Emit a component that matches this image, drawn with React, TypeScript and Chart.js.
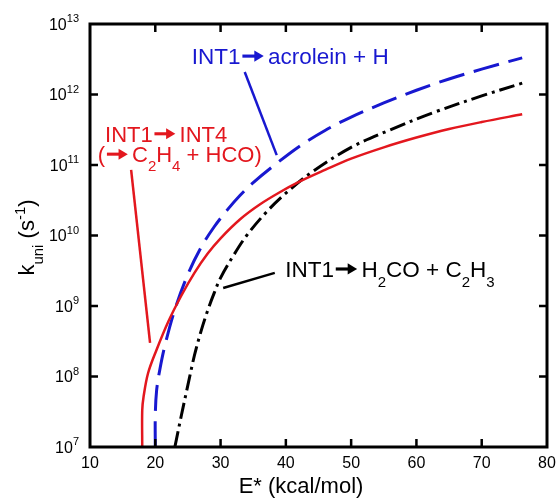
import React, { useEffect, useRef } from "react";
import { Chart, registerables } from "chart.js";

Chart.register(...registerables);

const FONT = '"Liberation Sans", Arial, Helvetica, sans-serif';

// INT1 -> INT4 (red, solid)
const redEnergy = [18, 18, 18.2, 18.9, 20.2, 22, 24, 26, 28, 30, 33, 36, 39, 42, 46, 50, 55, 60, 65, 70, 76.2];
const redRate = [1e7, 3.31e7, 5.13e7, 1.12e8, 2.4e8, 6.03e8, 1.41e9, 2.95e9, 5.5e9, 9.12e9, 1.7e10, 2.75e10, 4.07e10, 5.75e10, 8.5e10, 1.23e11, 1.78e11, 2.45e11, 3.24e11, 4.07e11, 5.25e11];

// INT1 -> acrolein + H (blue, dashed)
const blueEnergy = [20, 20, 20.2, 20.7, 21.5, 23, 25, 27, 29, 31, 33, 35, 38, 42, 46, 50, 55, 60, 65, 70, 76.2];
const blueRate = [1e7, 2.82e7, 6.31e7, 1.26e8, 2.82e8, 8.91e8, 2.82e9, 6.76e9, 1.32e10, 2.29e10, 3.72e10, 5.62e10, 9.55e10, 1.82e11, 3.09e11, 4.79e11, 7.59e11, 1.15e12, 1.66e12, 2.29e12, 3.31e12];

// INT1 -> H2CO + C2H3 (black, dash-dot)
const blackEnergy = [23, 24, 25, 26, 27, 28, 29, 30, 32, 34, 37, 40, 44, 50, 56, 62.5, 70, 76.2];
const blackRate = [1e7, 2.82e7, 7.59e7, 2.0e8, 4.37e8, 8.51e8, 1.51e9, 2.51e9, 5.25e9, 1.0e10, 2.14e10, 3.98e10, 7.94e10, 1.78e11, 3.16e11, 5.5e11, 9.55e11, 1.45e12];

const xTickValues = [10, 20, 30, 40, 50, 60, 70, 80];
const xTickLabels = ["10", "20", "30", "40", "50", "60", "70", "80"];
const yTickExponents = [7, 8, 9, 10, 11, 12, 13];

const RED = "#e3171e";
const BLUE = "#1818d0";
const BLACK = "#000000";

type Seg = { t?: string; arrow?: boolean; sub?: boolean; sup?: boolean };

const blueLabel: Seg[] = [{ t: "INT1" }, { arrow: true }, { t: "acrolein + H" }];
const redLabel1: Seg[] = [{ t: "INT1" }, { arrow: true }, { t: "INT4" }];
const redLabel2: Seg[] = [{ t: "(" }, { arrow: true }, { t: "C" }, { t: "2", sub: true }, { t: "H" }, { t: "4", sub: true }, { t: " + HCO)" }];
const blackLabel: Seg[] = [{ t: "INT1" }, { arrow: true }, { t: "H" }, { t: "2", sub: true }, { t: "CO + C" }, { t: "2", sub: true }, { t: "H" }, { t: "3", sub: true }];
const yTitle: Seg[] = [{ t: "k" }, { t: "uni", sub: true }, { t: " (s" }, { t: "-1", sup: true }, { t: ")" }];
const xTitle: Seg[] = [{ t: "E* (kcal/mol)" }];

// annotation anchors in data coordinates [E, k]
const blueLabelAt = [25.6, 2.69e12];
const blueLeader = [[33.7, 2.09e12], [38.6, 1.38e11]];
const redLabel1At = [12.3, 2.14e11];
const redLabel2At = [11.2, 1.1e11];
const redLeader = [[16.3, 8.5e10], [19.2, 3.0e8]];
const blackLabelAt = [39.9, 2.57e9];
const blackLeader = [[38.3, 2.95e9], [30.4, 1.8e9]];

function segFont(seg: Seg, size: number) {
  const s = seg.sub || seg.sup ? Math.round(size * 0.68) : size;
  return `${s}px ${FONT}`;
}

function segWidth(ctx: CanvasRenderingContext2D, seg: Seg, size: number) {
  if (seg.arrow) return size * 1.22;
  ctx.font = segFont(seg, size);
  return ctx.measureText(seg.t || "").width;
}

function drawRich(ctx: CanvasRenderingContext2D, segs: Seg[], x: number, y: number, size: number, color: string, align: "left" | "center" = "left") {
  const total = segs.reduce((s, g) => s + segWidth(ctx, g, size), 0);
  let cx = align === "center" ? x - total / 2 : x;
  ctx.fillStyle = color;
  ctx.strokeStyle = color;
  ctx.textBaseline = "alphabetic";
  ctx.textAlign = "left";
  for (const g of segs) {
    const w = segWidth(ctx, g, size);
    if (g.arrow) {
      const ay = y - size * 0.36;
      const x0 = cx + size * 0.08;
      const x1 = x0 + size * 0.95;
      const head = size * 0.42;
      ctx.lineWidth = size * 0.14;
      ctx.beginPath();
      ctx.moveTo(x0, ay);
      ctx.lineTo(x1 - head + 1, ay);
      ctx.stroke();
      ctx.beginPath();
      ctx.moveTo(x1, ay);
      ctx.lineTo(x1 - head, ay - size * 0.25);
      ctx.lineTo(x1 - head, ay + size * 0.25);
      ctx.closePath();
      ctx.fill();
    } else {
      ctx.font = segFont(g, size);
      const dy = g.sub ? size * 0.42 : g.sup ? -size * 0.4 : 0;
      ctx.fillText(g.t || "", cx, y + dy);
    }
    cx += w;
  }
}

const overlay = {
  id: "overlay",
  afterDatasetsDraw(chart: any) {
    const { ctx, chartArea: a, scales } = chart;
    const xs = scales.x;
    const ys = scales.y;
    const px = (v: number) => xs.getPixelForValue(v);
    const py = (v: number) => ys.getPixelForValue(v);
    ctx.save();

    // frame
    ctx.strokeStyle = BLACK;
    ctx.lineWidth = 3;
    ctx.strokeRect(a.left, a.top, a.right - a.left, a.bottom - a.top);

    // inward ticks
    ctx.lineWidth = 2.5;
    const tl = 8;
    ctx.beginPath();
    xTickValues.forEach((v) => {
      const x = px(v);
      if (x <= a.left + 1 || x >= a.right - 1) return;
      ctx.moveTo(x, a.bottom);
      ctx.lineTo(x, a.bottom - tl);
      ctx.moveTo(x, a.top);
      ctx.lineTo(x, a.top + tl);
    });
    yTickExponents.forEach((e) => {
      const y = py(Math.pow(10, e));
      if (y <= a.top + 1 || y >= a.bottom - 1) return;
      ctx.moveTo(a.left, y);
      ctx.lineTo(a.left + tl, y);
      ctx.moveTo(a.right, y);
      ctx.lineTo(a.right - tl, y);
    });
    ctx.stroke();

    // x tick labels
    ctx.fillStyle = BLACK;
    ctx.font = `16px ${FONT}`;
    ctx.textAlign = "center";
    ctx.textBaseline = "middle";
    xTickValues.forEach((v, i) => {
      ctx.fillText(xTickLabels[i], px(v), a.bottom + 17);
    });

    // y tick labels: 10^n
    yTickExponents.forEach((e) => {
      const y = py(Math.pow(10, e));
      ctx.textBaseline = "alphabetic";
      ctx.textAlign = "left";
      ctx.font = `11px ${FONT}`;
      const supW = ctx.measureText(String(e)).width;
      ctx.font = `16px ${FONT}`;
      const baseW = ctx.measureText("10").width;
      const right = a.left - 11;
      ctx.fillText("10", right - supW - baseW, y + 5.5);
      ctx.font = `11px ${FONT}`;
      ctx.fillText(String(e), right - supW, y - 2);
    });

    // axis titles
    drawRich(ctx, xTitle, a.left + 211, a.bottom + 46, 22, BLACK, "center");
    ctx.save();
    ctx.translate(34, (a.top + a.bottom) / 2 + 2);
    ctx.rotate(-Math.PI / 2);
    drawRich(ctx, yTitle, 0, 0, 22, BLACK, "center");
    ctx.restore();

    // leader lines
    const leader = (pts: number[][], color: string) => {
      ctx.strokeStyle = color;
      ctx.lineWidth = 2.5;
      ctx.beginPath();
      ctx.moveTo(px(pts[0][0]), py(pts[0][1]));
      ctx.lineTo(px(pts[1][0]), py(pts[1][1]));
      ctx.stroke();
    };
    leader(blueLeader, BLUE);
    leader(redLeader, RED);
    leader(blackLeader, BLACK);

    // labels
    drawRich(ctx, blueLabel, px(blueLabelAt[0]), py(blueLabelAt[1]), 22.5, BLUE);
    drawRich(ctx, redLabel1, px(redLabel1At[0]), py(redLabel1At[1]), 22, RED);
    drawRich(ctx, redLabel2, px(redLabel2At[0]), py(redLabel2At[1]), 22, RED);
    drawRich(ctx, blackLabel, px(blackLabelAt[0]), py(blackLabelAt[1]), 22.5, BLACK);

    ctx.restore();
  },
};

function toPoints(xs: number[], ys: number[]) {
  return xs.map((x, i) => ({ x, y: ys[i] }));
}

export default function App() {
  const ref = useRef<HTMLCanvasElement | null>(null);
  useEffect(() => {
    if (!ref.current) return;
    const chart = new Chart(ref.current, {
      type: "line",
      data: {
        datasets: [
          {
            data: toPoints(redEnergy, redRate),
            borderColor: RED,
            borderWidth: 2.5,
            pointRadius: 0,
            tension: 0.35,
            fill: false,
          },
          {
            data: toPoints(blueEnergy, blueRate),
            borderColor: BLUE,
            borderWidth: 3,
            borderDash: [26, 10],
            pointRadius: 0,
            tension: 0.35,
            fill: false,
          },
          {
            data: toPoints(blackEnergy, blackRate),
            borderColor: BLACK,
            borderWidth: 3,
            borderDash: [16, 5, 3, 5],
            pointRadius: 0,
            tension: 0.35,
            fill: false,
          },
        ],
      },
      options: {
        animation: false,
        responsive: false,
        layout: { padding: { top: 24, right: 12, left: 0, bottom: 0 } },
        plugins: { legend: { display: false }, tooltip: { enabled: false } },
        scales: {
          x: {
            type: "linear",
            min: 10,
            max: 80,
            ticks: { display: false },
            grid: { display: false },
            border: { display: false },
            afterFit: (s: any) => {
              s.height = 53;
            },
          },
          y: {
            type: "logarithmic",
            min: 1e7,
            max: 1e13,
            ticks: { display: false },
            grid: { display: false },
            border: { display: false },
            afterFit: (s: any) => {
              s.width = 90;
            },
          },
        },
      },
      plugins: [overlay],
    } as any);
    return () => chart.destroy();
  }, []);
  return (
    <div style={{ position: "absolute", left: 0, top: 0, width: 559, height: 500, background: "#fff" }}>
      <canvas ref={ref} width={559} height={500} />
    </div>
  );
}
